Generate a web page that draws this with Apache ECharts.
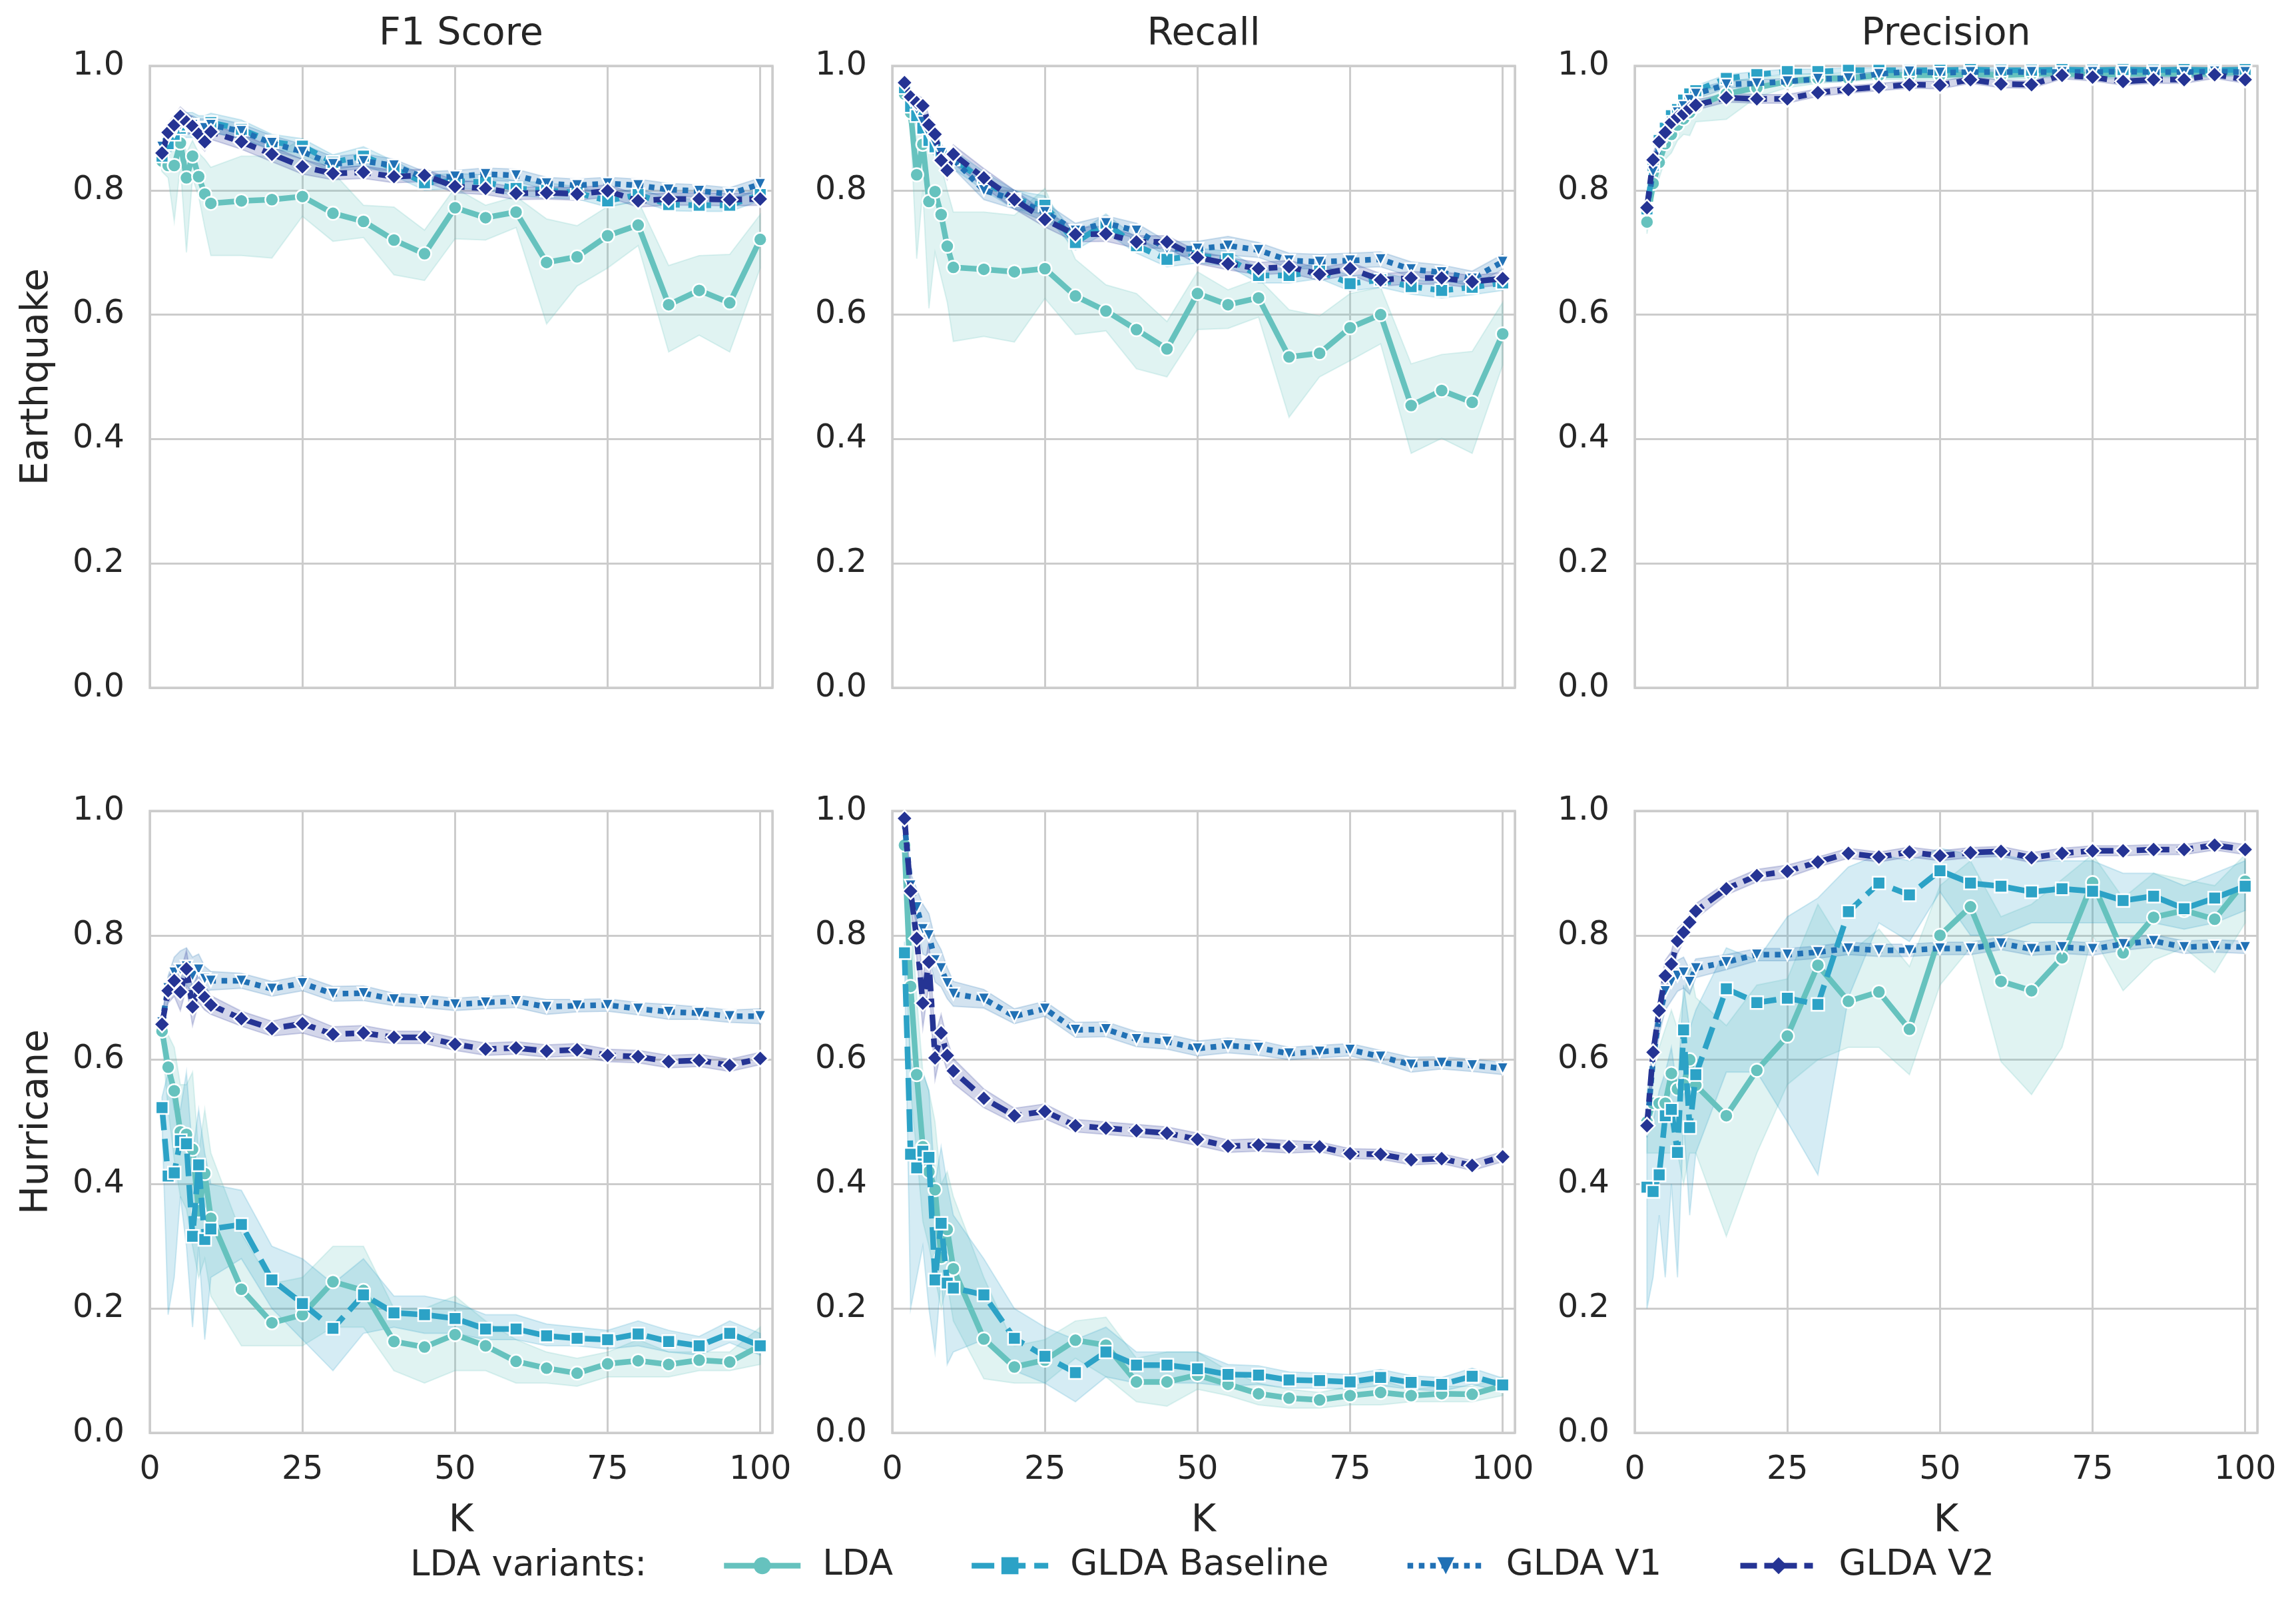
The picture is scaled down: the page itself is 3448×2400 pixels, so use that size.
<!DOCTYPE html>
<html><head><meta charset="utf-8">
<script src="https://cdn.jsdelivr.net/npm/echarts@6/dist/echarts.min.js"></script>
<style>html,body{margin:0;padding:0;background:#fff}#c{width:3448px;height:2400px}</style>
</head><body><div id="c"></div>
<script>
// ---------------- data ----------------
const K = [2,3,4,5,6,7,8,9,10,15,20,25,30,35,40,45,50,55,60,65,70,75,80,85,90,95,100];
const metrics = ['F1 Score','Recall','Precision'];
const datasets = ['Earthquake','Hurricane'];
const variants = ['LDA','GLDA Baseline','GLDA V1','GLDA V2'];
const xTicks = [0,25,50,75,100];
const yTicks = [0.0,0.2,0.4,0.6,0.8,1.0];

// Earthquake - F1
const eqF1_LDA    = [0.847,0.840,0.840,0.876,0.820,0.855,0.822,0.794,0.779,0.783,0.785,0.790,0.763,0.750,0.720,0.698,0.772,0.756,0.765,0.684,0.693,0.727,0.744,0.616,0.639,0.619,0.721];
const eqF1_LDA_lo = [0.830,0.820,0.750,0.840,0.700,0.820,0.790,0.740,0.695,0.695,0.691,0.758,0.718,0.724,0.664,0.655,0.722,0.720,0.740,0.585,0.646,0.675,0.711,0.540,0.567,0.540,0.675];
const eqF1_LDA_hi = [0.865,0.870,0.870,0.900,0.860,0.880,0.860,0.850,0.837,0.855,0.855,0.883,0.829,0.776,0.773,0.736,0.804,0.776,0.790,0.754,0.743,0.774,0.783,0.679,0.695,0.697,0.761];
const eqF1_BASE   = [0.855,0.875,0.890,0.900,0.905,0.905,0.900,0.900,0.909,0.898,0.878,0.871,0.845,0.855,0.835,0.812,0.815,0.813,0.803,0.800,0.796,0.783,0.793,0.777,0.776,0.776,0.793];
const eqF1_BASE_hw= [0.020,0.020,0.020,0.020,0.020,0.020,0.020,0.020,0.015,0.015,0.012,0.012,0.012,0.015,0.012,0.012,0.012,0.012,0.012,0.012,0.010,0.010,0.010,0.010,0.010,0.010,0.010];
const eqF1_V1     = [0.870,0.885,0.895,0.905,0.905,0.905,0.900,0.900,0.905,0.895,0.876,0.862,0.842,0.847,0.840,0.820,0.822,0.826,0.824,0.811,0.808,0.811,0.808,0.801,0.799,0.794,0.810];
const eqF1_V1_hw  = [0.015,0.015,0.015,0.015,0.015,0.015,0.015,0.015,0.012,0.012,0.012,0.012,0.012,0.012,0.010,0.010,0.010,0.010,0.010,0.010,0.010,0.010,0.010,0.010,0.010,0.010,0.010];
const eqF1_V2     = [0.860,0.893,0.905,0.919,0.910,0.903,0.890,0.878,0.894,0.878,0.858,0.838,0.827,0.829,0.822,0.824,0.806,0.803,0.795,0.796,0.794,0.799,0.783,0.786,0.786,0.785,0.786];
const eqF1_V2_hw  = [0.015,0.015,0.015,0.015,0.015,0.015,0.015,0.015,0.012,0.012,0.012,0.012,0.010,0.010,0.010,0.010,0.010,0.010,0.010,0.010,0.010,0.010,0.010,0.010,0.010,0.010,0.010];

// Earthquake - Recall
const eqRe_LDA    = [0.955,0.925,0.825,0.874,0.782,0.798,0.761,0.710,0.676,0.673,0.669,0.674,0.630,0.606,0.576,0.545,0.634,0.616,0.627,0.532,0.538,0.579,0.600,0.454,0.478,0.459,0.569];
const eqRe_LDA_lo = [0.940,0.900,0.690,0.800,0.610,0.700,0.660,0.620,0.557,0.565,0.556,0.626,0.568,0.574,0.513,0.500,0.576,0.578,0.596,0.435,0.500,0.526,0.553,0.377,0.401,0.377,0.519];
const eqRe_LDA_hi = [0.970,0.950,0.900,0.920,0.880,0.870,0.840,0.800,0.765,0.765,0.760,0.803,0.689,0.648,0.634,0.589,0.669,0.640,0.658,0.608,0.598,0.634,0.644,0.521,0.536,0.541,0.620];
const eqRe_BASE   = [0.965,0.935,0.920,0.900,0.880,0.870,0.860,0.845,0.850,0.815,0.785,0.776,0.716,0.747,0.711,0.689,0.695,0.690,0.663,0.663,0.670,0.650,0.656,0.645,0.639,0.644,0.651];
const eqRe_BASE_hw= [0.015,0.015,0.015,0.015,0.015,0.015,0.015,0.015,0.015,0.015,0.015,0.015,0.012,0.015,0.012,0.012,0.012,0.012,0.012,0.012,0.012,0.012,0.012,0.012,0.012,0.012,0.012];
const eqRe_V1     = [0.970,0.945,0.930,0.910,0.890,0.875,0.860,0.840,0.850,0.800,0.785,0.765,0.735,0.747,0.735,0.706,0.706,0.711,0.704,0.687,0.685,0.687,0.689,0.673,0.668,0.658,0.685];
const eqRe_V1_hw  = [0.012,0.015,0.015,0.015,0.015,0.015,0.015,0.015,0.015,0.015,0.015,0.015,0.012,0.012,0.012,0.012,0.012,0.015,0.012,0.012,0.012,0.012,0.012,0.012,0.012,0.012,0.012];
const eqRe_V2     = [0.973,0.950,0.941,0.936,0.905,0.890,0.848,0.832,0.858,0.820,0.785,0.753,0.729,0.730,0.717,0.717,0.692,0.682,0.674,0.677,0.665,0.674,0.656,0.659,0.659,0.653,0.658];
const eqRe_V2_hw  = [0.010,0.012,0.012,0.012,0.015,0.015,0.015,0.015,0.015,0.015,0.015,0.012,0.012,0.012,0.010,0.010,0.010,0.010,0.010,0.010,0.010,0.010,0.010,0.010,0.010,0.010,0.010];

// Earthquake - Precision
const eqPr_LDA    = [0.749,0.811,0.845,0.875,0.890,0.905,0.915,0.925,0.935,0.955,0.965,0.975,0.980,0.980,0.985,0.985,0.985,0.987,0.985,0.987,0.988,0.985,0.987,0.988,0.987,0.988,0.990];
const eqPr_LDA_lo = [0.730,0.790,0.820,0.850,0.860,0.880,0.890,0.888,0.910,0.914,0.950,0.965,0.972,0.975,0.978,0.978,0.978,0.980,0.978,0.980,0.982,0.978,0.980,0.982,0.980,0.982,0.984];
const eqPr_LDA_hi = [0.770,0.830,0.870,0.895,0.915,0.925,0.935,0.945,0.955,0.975,0.980,0.985,0.988,0.986,0.990,0.991,0.991,0.993,0.991,0.993,0.994,0.991,0.993,0.994,0.993,0.994,0.995];
const eqPr_BASE   = [0.770,0.840,0.880,0.900,0.920,0.930,0.945,0.955,0.960,0.980,0.986,0.991,0.991,0.993,0.993,0.993,0.993,0.994,0.993,0.993,0.994,0.993,0.994,0.993,0.994,0.993,0.994];
const eqPr_BASE_hw= [0.010,0.010,0.010,0.010,0.010,0.008,0.008,0.008,0.008,0.006,0.005,0.004,0.004,0.004,0.004,0.004,0.004,0.004,0.004,0.004,0.004,0.004,0.004,0.004,0.004,0.004,0.004];
const eqPr_V1     = [0.770,0.830,0.870,0.890,0.910,0.925,0.935,0.945,0.955,0.970,0.972,0.975,0.979,0.980,0.987,0.991,0.989,0.990,0.990,0.990,0.990,0.990,0.991,0.990,0.990,0.991,0.990];
const eqPr_V1_hw  = [0.010,0.010,0.010,0.010,0.010,0.008,0.008,0.008,0.008,0.006,0.006,0.005,0.005,0.005,0.004,0.004,0.004,0.004,0.004,0.004,0.004,0.004,0.004,0.004,0.004,0.004,0.004];
const eqPr_V2     = [0.772,0.849,0.878,0.893,0.909,0.918,0.923,0.932,0.937,0.949,0.947,0.947,0.957,0.962,0.966,0.970,0.969,0.978,0.971,0.970,0.985,0.982,0.975,0.978,0.978,0.986,0.978];
const eqPr_V2_hw  = [0.010,0.010,0.010,0.010,0.010,0.008,0.008,0.008,0.008,0.007,0.007,0.007,0.006,0.006,0.006,0.006,0.006,0.006,0.006,0.006,0.006,0.006,0.006,0.006,0.006,0.006,0.006];

// Hurricane - F1
const huF1_LDA    = [0.646,0.588,0.550,0.484,0.480,0.456,0.357,0.417,0.345,0.231,0.177,0.190,0.243,0.229,0.147,0.138,0.158,0.140,0.115,0.104,0.096,0.111,0.116,0.110,0.117,0.114,0.140];
const huF1_LDA_lo = [0.630,0.520,0.440,0.380,0.360,0.300,0.250,0.280,0.220,0.140,0.140,0.140,0.170,0.170,0.100,0.080,0.100,0.100,0.080,0.080,0.075,0.090,0.090,0.090,0.100,0.100,0.110];
const huF1_LDA_hi = [0.660,0.640,0.620,0.560,0.560,0.580,0.450,0.520,0.450,0.320,0.240,0.250,0.300,0.300,0.200,0.200,0.220,0.180,0.150,0.130,0.120,0.130,0.150,0.130,0.130,0.130,0.170];
const huF1_BASE   = [0.523,0.413,0.418,0.470,0.465,0.316,0.431,0.311,0.328,0.335,0.246,0.208,0.168,0.222,0.193,0.190,0.184,0.167,0.167,0.156,0.152,0.150,0.159,0.147,0.140,0.160,0.140];
const huF1_BASE_lo= [0.500,0.190,0.250,0.380,0.300,0.170,0.300,0.150,0.250,0.280,0.200,0.150,0.100,0.160,0.170,0.160,0.160,0.150,0.150,0.140,0.140,0.135,0.140,0.130,0.125,0.145,0.125];
const huF1_BASE_hi= [0.540,0.580,0.520,0.520,0.580,0.450,0.520,0.450,0.400,0.390,0.300,0.280,0.240,0.280,0.220,0.220,0.210,0.190,0.190,0.175,0.170,0.165,0.180,0.165,0.155,0.180,0.160];
const huF1_V1     = [0.660,0.715,0.740,0.745,0.750,0.735,0.745,0.730,0.727,0.727,0.714,0.723,0.706,0.707,0.697,0.694,0.689,0.692,0.694,0.685,0.687,0.688,0.682,0.677,0.675,0.670,0.670];
const huF1_V1_hw  = [0.010,0.020,0.025,0.030,0.030,0.030,0.025,0.020,0.015,0.012,0.012,0.012,0.012,0.012,0.010,0.010,0.010,0.010,0.010,0.012,0.010,0.010,0.010,0.012,0.010,0.010,0.012];
const huF1_V2     = [0.657,0.711,0.727,0.709,0.746,0.685,0.716,0.700,0.688,0.666,0.650,0.658,0.641,0.643,0.636,0.636,0.625,0.617,0.619,0.614,0.616,0.607,0.605,0.597,0.599,0.591,0.602];
const huF1_V2_hw  = [0.010,0.020,0.025,0.030,0.030,0.030,0.025,0.020,0.015,0.012,0.012,0.015,0.012,0.012,0.010,0.010,0.010,0.010,0.010,0.010,0.010,0.010,0.010,0.010,0.010,0.010,0.010];

// Hurricane - Recall
const huRe_LDA    = [0.945,0.718,0.576,0.460,0.420,0.391,0.282,0.327,0.264,0.151,0.106,0.117,0.149,0.141,0.082,0.082,0.093,0.078,0.063,0.056,0.053,0.060,0.065,0.060,0.063,0.062,0.076];
const huRe_LDA_lo = [0.930,0.550,0.450,0.340,0.300,0.250,0.200,0.240,0.180,0.087,0.080,0.080,0.120,0.090,0.050,0.043,0.070,0.060,0.045,0.040,0.040,0.045,0.045,0.050,0.050,0.050,0.060];
const huRe_LDA_hi = [0.960,0.850,0.700,0.580,0.550,0.500,0.400,0.420,0.380,0.250,0.140,0.150,0.180,0.186,0.120,0.130,0.130,0.100,0.080,0.070,0.065,0.075,0.085,0.070,0.075,0.075,0.090];
const huRe_BASE   = [0.772,0.448,0.426,0.453,0.443,0.246,0.337,0.241,0.233,0.222,0.152,0.123,0.097,0.130,0.109,0.109,0.103,0.094,0.093,0.085,0.084,0.082,0.089,0.081,0.078,0.091,0.077];
const huRe_BASE_lo= [0.760,0.200,0.250,0.300,0.200,0.130,0.250,0.110,0.130,0.150,0.100,0.080,0.050,0.090,0.080,0.080,0.080,0.075,0.078,0.072,0.072,0.070,0.076,0.070,0.067,0.078,0.066];
const huRe_BASE_hi= [0.790,0.600,0.550,0.580,0.550,0.400,0.460,0.400,0.350,0.280,0.200,0.170,0.150,0.170,0.130,0.130,0.130,0.110,0.108,0.098,0.096,0.094,0.102,0.092,0.089,0.104,0.088];
const huRe_V1     = [0.980,0.880,0.845,0.810,0.800,0.760,0.747,0.723,0.706,0.698,0.670,0.682,0.648,0.649,0.633,0.629,0.618,0.623,0.619,0.610,0.613,0.616,0.605,0.592,0.595,0.591,0.586];
const huRe_V1_hw  = [0.008,0.020,0.030,0.040,0.035,0.035,0.030,0.025,0.020,0.015,0.012,0.012,0.012,0.012,0.012,0.012,0.012,0.012,0.012,0.010,0.010,0.010,0.010,0.012,0.010,0.010,0.010];
const huRe_V2     = [0.988,0.871,0.795,0.691,0.757,0.603,0.643,0.607,0.582,0.538,0.510,0.517,0.494,0.490,0.486,0.482,0.472,0.461,0.463,0.460,0.460,0.449,0.448,0.439,0.441,0.430,0.444];
const huRe_V2_hw  = [0.008,0.020,0.030,0.040,0.035,0.035,0.030,0.025,0.020,0.015,0.012,0.012,0.010,0.010,0.010,0.010,0.010,0.010,0.010,0.010,0.008,0.008,0.008,0.008,0.008,0.008,0.008];

// Hurricane - Precision
const huPr_LDA    = [0.500,0.530,0.530,0.530,0.578,0.553,0.560,0.600,0.559,0.510,0.583,0.638,0.752,0.694,0.709,0.649,0.800,0.846,0.726,0.711,0.764,0.885,0.772,0.829,0.840,0.826,0.887];
const huPr_LDA_lo = [0.450,0.450,0.450,0.450,0.450,0.450,0.400,0.450,0.450,0.316,0.450,0.560,0.600,0.620,0.620,0.576,0.720,0.780,0.597,0.544,0.620,0.800,0.711,0.760,0.780,0.740,0.820];
const huPr_LDA_hi = [0.550,0.600,0.620,0.650,0.680,0.650,0.700,0.750,0.700,0.655,0.720,0.730,0.850,0.770,0.810,0.750,0.880,0.920,0.830,0.850,0.890,0.930,0.860,0.900,0.890,0.880,0.930];
const huPr_BASE   = [0.395,0.388,0.415,0.510,0.520,0.451,0.648,0.491,0.576,0.714,0.692,0.699,0.689,0.838,0.884,0.865,0.904,0.884,0.879,0.870,0.875,0.871,0.856,0.863,0.843,0.860,0.879];
const huPr_BASE_lo= [0.200,0.250,0.350,0.250,0.400,0.250,0.500,0.350,0.450,0.580,0.580,0.500,0.415,0.700,0.820,0.790,0.870,0.800,0.800,0.820,0.820,0.820,0.820,0.820,0.810,0.820,0.840];
const huPr_BASE_hi= [0.500,0.500,0.550,0.580,0.620,0.550,0.720,0.650,0.680,0.780,0.760,0.830,0.860,0.910,0.930,0.920,0.940,0.930,0.930,0.920,0.920,0.920,0.900,0.900,0.880,0.900,0.920];
const huPr_V1     = [0.490,0.600,0.670,0.710,0.725,0.735,0.740,0.725,0.747,0.757,0.769,0.769,0.773,0.779,0.776,0.776,0.779,0.779,0.787,0.778,0.781,0.778,0.786,0.791,0.781,0.783,0.781];
const huPr_V1_hw  = [0.015,0.030,0.030,0.030,0.030,0.025,0.025,0.020,0.015,0.012,0.010,0.010,0.010,0.010,0.010,0.010,0.010,0.010,0.010,0.010,0.010,0.010,0.010,0.010,0.010,0.010,0.010];
const huPr_V2     = [0.494,0.612,0.679,0.735,0.754,0.791,0.805,0.821,0.839,0.875,0.896,0.903,0.918,0.932,0.926,0.934,0.928,0.933,0.935,0.925,0.932,0.936,0.936,0.938,0.938,0.945,0.938];
const huPr_V2_hw  = [0.015,0.025,0.025,0.025,0.020,0.020,0.015,0.015,0.012,0.010,0.010,0.010,0.008,0.008,0.008,0.008,0.008,0.008,0.008,0.008,0.008,0.008,0.008,0.008,0.008,0.008,0.008];

// ---------------- build ----------------
const colors = ['#66c2be','#2ca2c6','#2171b5','#253494'];
const symbols = ['circle','rect','triangle','diamond'];
const symSizes = [20, 19, 18, 24];
const symRot = [0, 0, 180, 0];
const LW = 8.5;
const dashes = ['solid', [34,13], [8.5,8.5], [25,11,13,11]];
const FONT = 'DejaVu Sans';
const TXT = '#262626';
const GRIDC = '#cccccc';

const lo = (m, hw) => m.map((v,i)=>v-hw[i]);
const hi = (m, hw) => m.map((v,i)=>v+hw[i]);

const panels = [
  {r:0,c:0,s:[[eqF1_LDA,eqF1_LDA_lo,eqF1_LDA_hi],[eqF1_BASE,lo(eqF1_BASE,eqF1_BASE_hw),hi(eqF1_BASE,eqF1_BASE_hw)],[eqF1_V1,lo(eqF1_V1,eqF1_V1_hw),hi(eqF1_V1,eqF1_V1_hw)],[eqF1_V2,lo(eqF1_V2,eqF1_V2_hw),hi(eqF1_V2,eqF1_V2_hw)]]},
  {r:0,c:1,s:[[eqRe_LDA,eqRe_LDA_lo,eqRe_LDA_hi],[eqRe_BASE,lo(eqRe_BASE,eqRe_BASE_hw),hi(eqRe_BASE,eqRe_BASE_hw)],[eqRe_V1,lo(eqRe_V1,eqRe_V1_hw),hi(eqRe_V1,eqRe_V1_hw)],[eqRe_V2,lo(eqRe_V2,eqRe_V2_hw),hi(eqRe_V2,eqRe_V2_hw)]]},
  {r:0,c:2,s:[[eqPr_LDA,eqPr_LDA_lo,eqPr_LDA_hi],[eqPr_BASE,lo(eqPr_BASE,eqPr_BASE_hw),hi(eqPr_BASE,eqPr_BASE_hw)],[eqPr_V1,lo(eqPr_V1,eqPr_V1_hw),hi(eqPr_V1,eqPr_V1_hw)],[eqPr_V2,lo(eqPr_V2,eqPr_V2_hw),hi(eqPr_V2,eqPr_V2_hw)]]},
  {r:1,c:0,s:[[huF1_LDA,huF1_LDA_lo,huF1_LDA_hi],[huF1_BASE,huF1_BASE_lo,huF1_BASE_hi],[huF1_V1,lo(huF1_V1,huF1_V1_hw),hi(huF1_V1,huF1_V1_hw)],[huF1_V2,lo(huF1_V2,huF1_V2_hw),hi(huF1_V2,huF1_V2_hw)]]},
  {r:1,c:1,s:[[huRe_LDA,huRe_LDA_lo,huRe_LDA_hi],[huRe_BASE,huRe_BASE_lo,huRe_BASE_hi],[huRe_V1,lo(huRe_V1,huRe_V1_hw),hi(huRe_V1,huRe_V1_hw)],[huRe_V2,lo(huRe_V2,huRe_V2_hw),hi(huRe_V2,huRe_V2_hw)]]},
  {r:1,c:2,s:[[huPr_LDA,huPr_LDA_lo,huPr_LDA_hi],[huPr_BASE,huPr_BASE_lo,huPr_BASE_hi],[huPr_V1,lo(huPr_V1,huPr_V1_hw),hi(huPr_V1,huPr_V1_hw)],[huPr_V2,lo(huPr_V2,huPr_V2_hw),hi(huPr_V2,huPr_V2_hw)]]}
];

const gLeft = [225, 1340, 2455];
const gTop = [99, 1218];
const gW = 935, gH = 934;

const grid = [], xAxis = [], yAxis = [], series = [];
panels.forEach((p, pi) => {
  grid.push({left:gLeft[p.c], top:gTop[p.r], width:gW, height:gH, show:true, borderColor:GRIDC, borderWidth:3.5, backgroundColor:'#fff'});
  xAxis.push({gridIndex:pi, type:'value', min:0, max:102, interval:25,
    axisLine:{show:false}, axisTick:{show:false},
    splitLine:{show:true, lineStyle:{color:GRIDC, width:3}},
    axisLabel:{show:p.r===1, fontSize:49, fontFamily:FONT, color:TXT, margin:32,
      formatter:(v)=> xTicks.indexOf(v)>=0 ? String(v) : ''}});
  yAxis.push({gridIndex:pi, type:'value', min:0, max:1, interval:0.2,
    axisLine:{show:false}, axisTick:{show:false},
    splitLine:{show:true, lineStyle:{color:GRIDC, width:3}},
    axisLabel:{fontSize:49, fontFamily:FONT, color:TXT, margin:38,
      formatter:(v)=> yTicks.some(t=>Math.abs(t-v)<1e-9) ? v.toFixed(1) : ''}});
  p.s.forEach((sd, vi) => {
    const l = sd[1], h = sd[2];
    series.push({type:'custom', xAxisIndex:pi, yAxisIndex:pi, silent:true, z:1, clip:true,
      data: K.map((k,i)=>[k, l[i], h[i]]),
      renderItem: (params, api) => {
        if (params.dataIndex !== 0) return null;
        const pts = [];
        for (let i=0;i<K.length;i++) pts.push(api.coord([K[i], h[i]]));
        for (let i=K.length-1;i>=0;i--) pts.push(api.coord([K[i], l[i]]));
        return {type:'polygon', shape:{points:pts}, style:{fill:colors[vi], stroke:colors[vi], lineWidth:2, opacity:0.2}};
      }});
  });
  p.s.forEach((sd, vi) => {
    series.push({type:'line', name:variants[vi], xAxisIndex:pi, yAxisIndex:pi, z:3+vi,
      data: K.map((k,i)=>[k, sd[0][i]]),
      symbol:symbols[vi], symbolSize:symSizes[vi], symbolRotate:symRot[vi],
      showSymbol:true, showAllSymbol:true,
      itemStyle:{color:colors[vi], borderColor:'#ffffff', borderWidth:2.5},
      lineStyle:{color:colors[vi], width:LW, type:dashes[vi]},
      animation:false});
  });
});

const graphic = [];
metrics.forEach((m, c) => {
  graphic.push({type:'text', x:gLeft[c]+gW/2, y:52, style:{text:m, font:'57px "'+FONT+'"', fill:TXT, align:'center', verticalAlign:'middle'}});
  graphic.push({type:'text', x:gLeft[c]+gW/2, y:2285, style:{text:'K', font:'57px "'+FONT+'"', fill:TXT, align:'center', verticalAlign:'middle'}});
});
datasets.forEach((d, r) => {
  graphic.push({type:'text', x:56, y:gTop[r]+gH/2, rotation:Math.PI/2, style:{text:d, font:'57px "'+FONT+'"', fill:TXT, align:'center', verticalAlign:'middle'}});
});
graphic.push({type:'text', x:616, y:2352, style:{text:'LDA variants:', font:'53px "'+FONT+'"', fill:TXT, align:'left', verticalAlign:'middle'}});

const chart = echarts.init(document.getElementById('c'), null, {renderer:'canvas', width:3448, height:2400});
chart.setOption({
  backgroundColor:'#ffffff',
  animation:false,
  grid, xAxis, yAxis, series, graphic,
  legend:{data:variants, left:1078, top:2320, itemWidth:115, itemHeight:32, itemGap:114, selectedMode:false,
    itemStyle:{borderWidth:0},
    lineStyle:{width:LW},
    textStyle:{fontSize:53, fontFamily:FONT, color:TXT, padding:[0,0,0,28]}}
});
</script></body></html>
